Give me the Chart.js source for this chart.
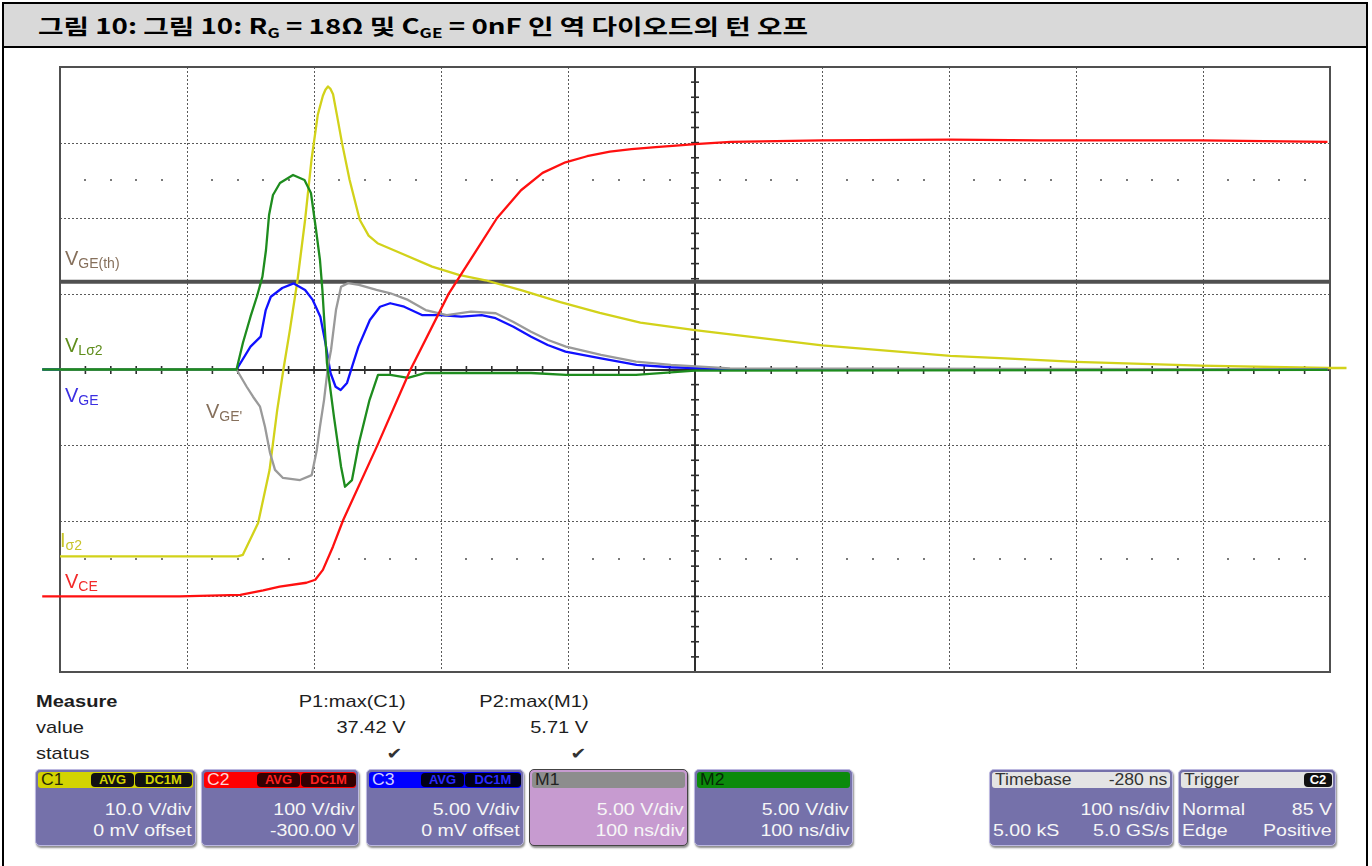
<!DOCTYPE html>
<html>
<head>
<meta charset="utf-8">
<script src="https://cdn.jsdelivr.net/npm/chart.js@4.4.1/dist/chart.umd.min.js"></script>
<style>
  html, body { margin: 0; padding: 0; background: #fff; }
  body { width: 1372px; height: 866px; position: relative; overflow: hidden;
         font-family: "Liberation Sans", Arial, sans-serif; }
  #outer { position: absolute; left: 2px; top: 2px; width: 1366px; height: 900px;
           border: 2px solid #000; box-sizing: border-box; }
  #titlebar { position: absolute; left: 2px; top: 2px; width: 1366px; height: 46px;
              background: #d9d9d9; border: 2px solid #000; box-sizing: border-box; }
  #title { position: absolute; left: 38px; top: 12px; font: 700 21px "Noto Sans CJK KR", sans-serif;
           line-height: 26px; color: #000; white-space: nowrap; transform-origin: left center; }
  #title sub { font-size: 13px; vertical-align: -4px; line-height: 0; }
  #scope { position: absolute; left: 0; top: 50px; }
  .lbl { position: absolute; font-size: 20px; line-height: 20px; white-space: nowrap; }
  .lbl span { font-size: 14px; vertical-align: -3px; }
  .mt { position: absolute; font-size: 17px; line-height: 20px; color: #1e1e1e; white-space: nowrap;
        transform: scaleX(1.18); transform-origin: left center; }
  .mt.r { transform-origin: right center; }
  .ck { font-family: "DejaVu Sans", sans-serif; font-size: 16px; color: #333; }
  .box { position: absolute; top: 769px; height: 77px; box-sizing: border-box; background: #7571aa;
         border: 1px solid #bcb8e0; border-radius: 5px; box-shadow: 1px 2px 2px rgba(0,0,0,.45);
         color: #f6f6f6; overflow: hidden; }
  .hd { position: absolute; left: 2px; right: 2px; top: 2px; height: 16px; border-radius: 3px; }
  .hd b { position: absolute; left: 3px; top: 0; font-weight: normal; font-size: 16px; line-height: 16px;
          transform: scaleX(1.1); transform-origin: left center; white-space: nowrap; }
  .hd i { position: absolute; right: 3px; top: 0; font-style: normal; font-size: 16px; line-height: 16px;
          transform: scaleX(1.1); transform-origin: right center; white-space: nowrap; }
  .bd { position: absolute; top: 3px; height: 14px; border-radius: 4px; background: #111;
        font-size: 13px; line-height: 14px; font-weight: bold; text-align: center; }
  .t { position: absolute; font-size: 17px; line-height: 18px; white-space: nowrap; }
  .t.a { top: 31px; } .t.b { top: 52px; }
  .t.rt { right: 3px; transform: scaleX(1.15); transform-origin: right center; }
  .t.lt { left: 3px; transform: scaleX(1.15); transform-origin: left center; }
</style>
</head>
<body>
<div id="outer"></div>
<div id="titlebar"></div>
<div id="title">그림 10: 그림 10: R<sub>G</sub> = 18Ω 및 C<sub>GE</sub> = 0nF 인 역 다이오드의 턴 오프</div>

<canvas id="scope" width="1372" height="640"></canvas>

<!-- trace annotations -->
<div class="lbl" style="left:65px;top:248px;color:#86705c">V<span>GE(th)</span></div>
<div class="lbl" style="left:65px;top:335px;color:#5f8d1c">V<span>Lσ2</span></div>
<div class="lbl" style="left:65px;top:385px;color:#3b2fe2">V<span>GE</span></div>
<div class="lbl" style="left:206px;top:401px;color:#86705c">V<span>GE'</span></div>
<div class="lbl" style="left:60px;top:530px;color:#c9c42a">I<span>σ2</span></div>
<div class="lbl" style="left:65px;top:571px;color:#f22a2a">V<span>CE</span></div>

<!-- measurement table -->
<div class="mt" style="left:36px;top:692px;font-weight:bold">Measure</div>
<div class="mt" style="left:36px;top:718px">value</div>
<div class="mt" style="left:36px;top:744px">status</div>
<div class="mt r" style="right:966px;top:692px">P1:max(C1)</div>
<div class="mt r" style="right:966px;top:718px">37.42 V</div>
<div class="mt r ck" style="right:970px;top:744px">✔</div>
<div class="mt r" style="right:783px;top:692px">P2:max(M1)</div>
<div class="mt r" style="right:784px;top:718px">5.71 V</div>
<div class="mt r ck" style="right:786px;top:744px">✔</div>

<!-- channel descriptors -->
<div class="box" style="left:35px;width:161px">
  <div class="hd" style="background:#d3d300;color:#2a2a00"><b>C1</b></div>
  <div class="bd" style="left:55px;width:43px;color:#d3d300">AVG</div>
  <div class="bd" style="left:99px;width:57px;color:#d3d300">DC1M</div>
  <div class="t a rt">10.0 V/div</div>
  <div class="t b rt">0 mV offset</div>
</div>
<div class="box" style="left:201px;width:158px">
  <div class="hd" style="background:#ff0000;color:#ffd6d6"><b>C2</b></div>
  <div class="bd" style="left:55px;width:43px;color:#ff2020;background:#300">AVG</div>
  <div class="bd" style="left:99px;width:55px;color:#ff2020;background:#300">DC1M</div>
  <div class="t a rt">100 V/div</div>
  <div class="t b rt">-300.00 V</div>
</div>
<div class="box" style="left:366px;width:158px">
  <div class="hd" style="background:#0000ff;color:#d0d0ff"><b>C3</b></div>
  <div class="bd" style="left:54px;width:43px;color:#2a2aff;background:#000018">AVG</div>
  <div class="bd" style="left:98px;width:56px;color:#2a2aff;background:#000018">DC1M</div>
  <div class="t a rt">5.00 V/div</div>
  <div class="t b rt">0 mV offset</div>
</div>
<div class="box" style="left:529px;width:159px;background:#c79bd0;border-color:#444">
  <div class="hd" style="background:#8d8d8d;color:#222"><b>M1</b></div>
  <div class="t a rt">5.00 V/div</div>
  <div class="t b rt">100 ns/div</div>
</div>
<div class="box" style="left:694px;width:159px">
  <div class="hd" style="background:#0b8a0b;color:#062806"><b>M2</b></div>
  <div class="t a rt">5.00 V/div</div>
  <div class="t b rt">100 ns/div</div>
</div>
<div class="box" style="left:989px;width:184px">
  <div class="hd" style="background:#e4e4e4;color:#333"><b>Timebase</b><i>-280 ns</i></div>
  <div class="t a rt">100 ns/div</div>
  <div class="t b lt">5.00 kS</div>
  <div class="t b rt">5.0 GS/s</div>
</div>
<div class="box" style="left:1178px;width:158px">
  <div class="hd" style="background:#e4e4e4;color:#333"><b>Trigger</b></div>
  <div class="bd" style="left:125px;width:28px;color:#fff">C2</div>
  <div class="t a lt">Normal</div>
  <div class="t a rt">85 V</div>
  <div class="t b lt">Edge</div>
  <div class="t b rt">Positive</div>
</div>

<script>
// Screen span: 10 divisions at 100 ns/div, trigger at t = 0
const timeSpanNs = [-220, 780];
const nsPerDiv = 100;

// Channel vertical settings: volts per division and offset
const channelIds   = ['c1', 'c2', 'c3', 'm1', 'm2'];
const voltsPerDiv  = [10, 100, 5, 5, 5];
const offsetVolts  = [0, -300, 0, 0, 0];

// C1 – I_σ2 (yellow)
const c1Time = [-220, -80, -76, -64, -55, -49, -44, -39, -33, -27, -22, -17, -13, -11, -9, -7, -5, -2, 2, 8, 16, 23, 30, 48, 73, 94, 115, 143, 174, 205, 237, 280, 380, 481, 520, 580, 678, 778, 793];
const c1Volt = [-24.7, -24.7, -24.5, -20.3, -13.3, -5.4, 0.1, 5.2, 11.8, 19.8, 27.7, 33.7, 36.2, 37.0, 37.42, 37.1, 36.4, 33.7, 30.0, 25.1, 19.8, 17.7, 16.7, 15.4, 13.6, 12.5, 11.8, 10.5, 8.9, 7.5, 6.2, 5.2, 3.2, 1.8, 1.5, 1.0, 0.5, 0.2, 0.2];

// C2 – V_CE (red)
const c2Time = [-234, -126, -78, -60, -47, -26, -19, -13, -5, 3, 30, 56, 86, 108, 124, 143, 160, 178, 195, 213, 230, 249, 265, 280, 308, 380, 481, 552, 678, 778];
const c2Volt = [0, 0, 2, 8, 13, 18, 22, 35, 66, 101, 200, 300, 400, 458, 500, 537, 560, 574, 582, 588, 591.5, 594, 596, 598, 601, 603, 604, 603, 603, 601];

// C3 – V_GE (blue)
const c3Time = [-234, -81, -70, -62, -58, -54, -45, -36, -27, -21, -15, -11, -7, -3, 1, 6, 10, 15, 24, 32, 40, 51, 65, 79, 96, 112, 123, 137, 151, 164, 178, 206, 234, 261, 308, 778];
const c3Volt = [0, 0, 1.51, 2.17, 3.93, 4.81, 5.39, 5.69, 5.26, 4.6, 3.49, 1.75, -0.23, -1.14, -1.36, -0.89, 0.19, 1.51, 3.27, 4.15, 4.38, 4.15, 3.6, 3.6, 3.49, 3.6, 3.39, 2.83, 2.17, 1.62, 1.18, 0.74, 0.3, 0.15, 0.01, 0];

// M1 – V_GE' (grey)
const m1Time = [-220, -81, -73, -68, -62.5, -58.6, -54.6, -50.7, -44.4, -31, -21.8, -17.8, -15.3, -12.1, -9, -6.6, -2.7, 1.3, 6.8, 15.4, 29.2, 40.2, 54, 67.9, 84.5, 103.6, 123.1, 136.7, 150.9, 164.3, 178.4, 206, 233.5, 261.1, 307.6, 778];
const m1Volt = [0, 0, -1.14, -1.8, -2.46, -3.78, -5.52, -6.64, -7.17, -7.31, -6.98, -5.32, -3.78, -2.02, 0.19, 1.29, 3.93, 5.47, 5.71, 5.59, 5.26, 5.04, 4.6, 3.93, 3.6, 3.82, 3.72, 3.16, 2.5, 1.95, 1.51, 0.96, 0.52, 0.3, 0.08, 0];

// M2 – V_Lσ2 (green)
const m2Time = [-234, -81, -76, -70, -65, -60.6, -57.8, -55.4, -52.3, -46.8, -36.5, -27.5, -22.4, -18.7, -15.3, -13.4, -12.1, -9.8, -4.3, 1.3, 4.4, 9.9, 15.4, 23.7, 30.4, 40.2, 54, 67.9, 95.5, 150.9, 178.4, 233.5, 280, 778];
const m2Volt = [0, 0, 1.75, 3.49, 4.81, 6.14, 7.9, 10.21, 11.54, 12.33, 12.86, 12.53, 11.67, 9.42, 7.24, 5.26, 3.49, 0.43, -3.12, -6.43, -7.75, -7.31, -4.86, -2.02, -0.36, -0.36, -0.56, -0.23, -0.23, -0.23, -0.36, -0.36, -0.08, -0.03];

// Gate threshold level, on the C3 scale
const vgeThreshold = 5.8;

const pairs = (t, v) => t.map((x, i) => ({ x, y: v[i] }));

// Each channel gets its own hidden axis spanning 8 divisions around its offset
const scales = {
  x: { type: 'linear', min: timeSpanNs[0], max: timeSpanNs[1], display: false }
};
channelIds.forEach((id, i) => {
  scales[id] = {
    type: 'linear', display: false,
    min: -4 * voltsPerDiv[i] - offsetVolts[i],
    max:  4 * voltsPerDiv[i] - offsetVolts[i]
  };
});

// Oscilloscope graticule: dotted divisions, centre cross with minor ticks, outer frame
const graticule = {
  id: 'graticule',
  beforeDatasetsDraw(chart) {
    const ctx = chart.ctx, a = chart.chartArea;
    const xs = chart.scales.x, ys = chart.scales.c3;
    const xAt = k => xs.getPixelForValue(xs.min + k * nsPerDiv);
    const yAt = j => ys.getPixelForValue(ys.max - j * voltsPerDiv[2]);
    const seg = (x1, y1, x2, y2) => { ctx.beginPath(); ctx.moveTo(x1, y1); ctx.lineTo(x2, y2); ctx.stroke(); };
    ctx.save();
    ctx.lineWidth = 1;
    ctx.strokeStyle = '#5a5a5a';
    ctx.setLineDash([2, 2]);
    for (let k = 1; k < 10; k++) {
      if (k === 5) continue;
      const x = Math.round(xAt(k)) + 0.5;
      seg(x, a.top, x, a.bottom);
    }
    for (let j = 1; j < 8; j++) {
      if (j === 4) continue;
      const y = Math.round(yAt(j)) + 0.5;
      seg(a.left, y, a.right, y);
    }
    ctx.setLineDash([]);
    // rows of sub-division dots
    ctx.fillStyle = '#7a7a7a';
    [1.5, 6.5].forEach(j => {
      const y = Math.round(yAt(j));
      for (let k = 1; k < 50; k++) {
        if (k % 5 === 0) continue;
        ctx.fillRect(Math.round(xAt(k / 5)) - 1, y - 1, 2, 2);
      }
    });
    // centre cross
    const cx = Math.round(xAt(5)), cy = Math.round(yAt(4));
    ctx.strokeStyle = '#2e2e2e';
    ctx.lineWidth = 2;
    seg(cx, a.top, cx, a.bottom);
    seg(a.left, cy, a.right, cy);
    ctx.lineWidth = 1.6;
    for (let j = 1; j < 40; j++) { const y = yAt(j / 5); seg(cx - 4, y, cx + 4, y); }
    for (let k = 1; k < 50; k++) { const x = xAt(k / 5); seg(x, cy - 4, x, cy + 4); }
    // frame
    ctx.strokeStyle = '#505050';
    ctx.lineWidth = 2;
    ctx.strokeRect(a.left, a.top, a.right - a.left, a.bottom - a.top);
    ctx.restore();
  }
};

const trace = (label, data, axis, color, order) => ({
  label, data, yAxisID: axis, borderColor: color, borderWidth: 2.3,
  pointRadius: 0, tension: 0, clip: false, order, borderJoinStyle: 'round'
});

new Chart(document.getElementById('scope'), {
  type: 'line',
  data: {
    datasets: [
      trace('V_CE', pairs(c2Time, c2Volt), 'c2', '#ff1010', 1),
      trace('V_Lσ2', pairs(m2Time, m2Volt), 'm2', '#1e8c1e', 2),
      trace("V_GE'", pairs(m1Time, m1Volt), 'm1', '#9a9a9a', 3),
      trace('V_GE', pairs(c3Time, c3Volt), 'c3', '#1010ff', 4),
      trace('I_σ2', pairs(c1Time, c1Volt), 'c1', '#d2d21a', 5),
      {
        label: 'V_GE(th)',
        data: pairs(timeSpanNs, [vgeThreshold, vgeThreshold]),
        yAxisID: 'c3', borderColor: '#505050', borderWidth: 4, pointRadius: 0, order: 9
      }
    ]
  },
  options: {
    responsive: false,
    devicePixelRatio: 1,
    animation: false,
    layout: { padding: { left: 60, right: 42, top: 17, bottom: 18 } },
    scales,
    plugins: { legend: { display: false }, tooltip: { enabled: false }, title: { display: false } },
    events: []
  },
  plugins: [graticule]
});

// Stretch the heading so it runs across the same span as the caption column
function fitTitle() {
  const el = document.getElementById('title');
  el.style.transform = 'none';
  const w = el.getBoundingClientRect().width;
  if (w > 0) el.style.transform = 'scaleX(' + (770 / w).toFixed(4) + ')';
}
fitTitle();
if (document.fonts && document.fonts.ready) document.fonts.ready.then(fitTitle);
</script>
</body>
</html>
